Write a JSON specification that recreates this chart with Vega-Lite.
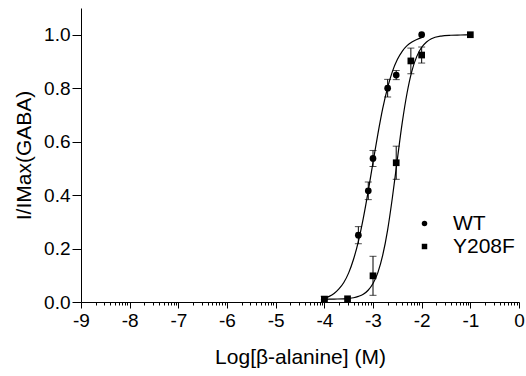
{
  "$schema": "https://vega.github.io/schema/vega-lite/v6.json",
  "width": 438,
  "height": 294,
  "autosize": {"type": "none"},
  "padding": {"left": 81, "top": 8, "right": 7, "bottom": 74},
  "background": "white",
  "config": {
    "view": {"stroke": null},
    "font": "Liberation Sans",
    "axis": {
      "domainColor": "black", "tickColor": "black", "labelColor": "black", "titleColor": "black",
      "grid": false, "labelFont": "Liberation Sans", "titleFont": "Liberation Sans",
      "labelFontSize": 19, "titleFontSize": 21, "titleFontWeight": "normal",
      "domainWidth": 1, "tickWidth": 1
    },
    "legend": {
      "orient": "none", "legendX": 333, "legendY": 205, "title": null,
      "labelFont": "Liberation Sans", "labelFontSize": 21, "labelColor": "black",
      "symbolSize": 30, "symbolFillColor": "black", "symbolStrokeWidth": 0,
      "labelOffset": 18, "rowPadding": 1, "padding": 0
    }
  },
  "datasets": {
    "pts": [
      {"series": "WT", "x": -4.0, "y": 0.01, "lo": 0.0, "hi": 0.02},
      {"series": "WT", "x": -3.301, "y": 0.25, "lo": 0.218, "hi": 0.282},
      {"series": "WT", "x": -3.097, "y": 0.416, "lo": 0.383, "hi": 0.449},
      {"series": "WT", "x": -3.0, "y": 0.537, "lo": 0.507, "hi": 0.567},
      {"series": "WT", "x": -2.699, "y": 0.80, "lo": 0.767, "hi": 0.833},
      {"series": "WT", "x": -2.523, "y": 0.849, "lo": 0.832, "hi": 0.866},
      {"series": "WT", "x": -2.0, "y": 1.0},
      {"series": "Y208F", "x": -4.0, "y": 0.01, "lo": -0.002, "hi": 0.022},
      {"series": "Y208F", "x": -3.523, "y": 0.012},
      {"series": "Y208F", "x": -3.0, "y": 0.098, "lo": 0.025, "hi": 0.171},
      {"series": "Y208F", "x": -2.523, "y": 0.521, "lo": 0.459, "hi": 0.583},
      {"series": "Y208F", "x": -2.222, "y": 0.902, "lo": 0.854, "hi": 0.95},
      {"series": "Y208F", "x": -2.0, "y": 0.924, "lo": 0.894, "hi": 0.954},
      {"series": "Y208F", "x": -1.0, "y": 1.0}
    ],
    "curve": [
      {"series": "WT", "x": -4.0, "y": 0.014},
      {"series": "WT", "x": -3.9, "y": 0.021},
      {"series": "WT", "x": -3.8, "y": 0.032},
      {"series": "WT", "x": -3.7, "y": 0.049},
      {"series": "WT", "x": -3.6, "y": 0.073},
      {"series": "WT", "x": -3.5, "y": 0.109},
      {"series": "WT", "x": -3.4, "y": 0.160},
      {"series": "WT", "x": -3.3, "y": 0.227},
      {"series": "WT", "x": -3.2, "y": 0.313},
      {"series": "WT", "x": -3.1, "y": 0.413},
      {"series": "WT", "x": -3.0, "y": 0.522},
      {"series": "WT", "x": -2.9, "y": 0.628},
      {"series": "WT", "x": -2.8, "y": 0.724},
      {"series": "WT", "x": -2.7, "y": 0.802},
      {"series": "WT", "x": -2.6, "y": 0.863},
      {"series": "WT", "x": -2.5, "y": 0.907},
      {"series": "WT", "x": -2.4, "y": 0.938},
      {"series": "WT", "x": -2.3, "y": 0.959},
      {"series": "WT", "x": -2.2, "y": 0.973},
      {"series": "WT", "x": -2.1, "y": 0.982},
      {"series": "WT", "x": -2.0, "y": 0.989},
      {"series": "Y208F", "x": -4.0, "y": 0.010},
      {"series": "Y208F", "x": -3.8, "y": 0.011},
      {"series": "Y208F", "x": -3.6, "y": 0.012},
      {"series": "Y208F", "x": -3.5, "y": 0.0135},
      {"series": "Y208F", "x": -3.4, "y": 0.016},
      {"series": "Y208F", "x": -3.3, "y": 0.021},
      {"series": "Y208F", "x": -3.2, "y": 0.029},
      {"series": "Y208F", "x": -3.1, "y": 0.044},
      {"series": "Y208F", "x": -3.0, "y": 0.069},
      {"series": "Y208F", "x": -2.9, "y": 0.110},
      {"series": "Y208F", "x": -2.8, "y": 0.175},
      {"series": "Y208F", "x": -2.7, "y": 0.269},
      {"series": "Y208F", "x": -2.6, "y": 0.393},
      {"series": "Y208F", "x": -2.5, "y": 0.533},
      {"series": "Y208F", "x": -2.4, "y": 0.670},
      {"series": "Y208F", "x": -2.3, "y": 0.782},
      {"series": "Y208F", "x": -2.2, "y": 0.865},
      {"series": "Y208F", "x": -2.1, "y": 0.919},
      {"series": "Y208F", "x": -2.0, "y": 0.953},
      {"series": "Y208F", "x": -1.9, "y": 0.973},
      {"series": "Y208F", "x": -1.8, "y": 0.985},
      {"series": "Y208F", "x": -1.6, "y": 0.995},
      {"series": "Y208F", "x": -1.4, "y": 0.998},
      {"series": "Y208F", "x": -1.2, "y": 0.999},
      {"series": "Y208F", "x": -1.0, "y": 1.0}
    ]
  },
  "encoding": {
    "x": {
      "field": "x", "type": "quantitative",
      "scale": {"domain": [-9, 0], "nice": false, "zero": false},
      "title": "Log[β-alanine] (M)",
      "axis": {
        "values": [-9, -8.69897, -8.52288, -8.39794, -8.30103, -8.22185, -8.1549, -8.09691, -8.04576,
                   -8, -7.69897, -7.52288, -7.39794, -7.30103, -7.22185, -7.1549, -7.09691, -7.04576,
                   -7, -6.69897, -6.52288, -6.39794, -6.30103, -6.22185, -6.1549, -6.09691, -6.04576,
                   -6, -5.69897, -5.52288, -5.39794, -5.30103, -5.22185, -5.1549, -5.09691, -5.04576,
                   -5, -4.69897, -4.52288, -4.39794, -4.30103, -4.22185, -4.1549, -4.09691, -4.04576,
                   -4, -3.69897, -3.52288, -3.39794, -3.30103, -3.22185, -3.1549, -3.09691, -3.04576,
                   -3, -2.69897, -2.52288, -2.39794, -2.30103, -2.22185, -2.1549, -2.09691, -2.04576,
                   -2, -1.69897, -1.52288, -1.39794, -1.30103, -1.22185, -1.1549, -1.09691, -1.04576,
                   -1, -0.69897, -0.52288, -0.39794, -0.30103, -0.22185, -0.1549, -0.09691, -0.04576, 0],
        "tickCount": 200,
        "labelExpr": "datum.value % 1 === 0 ? '' + datum.value : ''",
        "tickSize": {"condition": {"test": "datum.value % 1 === 0", "value": 6}, "value": 3},
        "labelPadding": 3,
        "titlePadding": 16,
        "labelFlush": false,
        "labelOverlap": false
      }
    }
  },
  "layer": [
    {
      "data": {"name": "curve"},
      "mark": {"type": "line", "interpolate": "monotone", "color": "black", "strokeWidth": 1.2},
      "encoding": {
        "y": {"field": "y", "type": "quantitative", "scale": {"domain": [0, 1.1], "nice": false},
              "title": "I/IMax(GABA)",
              "axis": {"values": [0, 0.2, 0.4, 0.6, 0.8, 1.0], "format": ".1f", "tickSize": 9, "labelPadding": 2, "titlePadding": 9}},
        "detail": {"field": "series"}
      }
    },
    {
      "data": {"name": "pts"},
      "transform": [{"filter": "datum.lo != null"}],
      "mark": {"type": "errorbar", "ticks": true, "size": 7, "thickness": 1, "color": "black"},
      "encoding": {
        "y": {"field": "lo", "type": "quantitative", "title": "I/IMax(GABA)"},
        "y2": {"field": "hi"},
        "detail": {"field": "series"}
      }
    },
    {
      "data": {"name": "pts"},
      "mark": {"type": "point", "filled": true, "color": "black", "size": 45, "opacity": 1},
      "encoding": {
        "y": {"field": "y", "type": "quantitative", "title": "I/IMax(GABA)"},
        "shape": {"field": "series", "type": "nominal",
                  "scale": {"domain": ["WT", "Y208F"], "range": ["circle", "square"]}}
      }
    }
  ]
}
